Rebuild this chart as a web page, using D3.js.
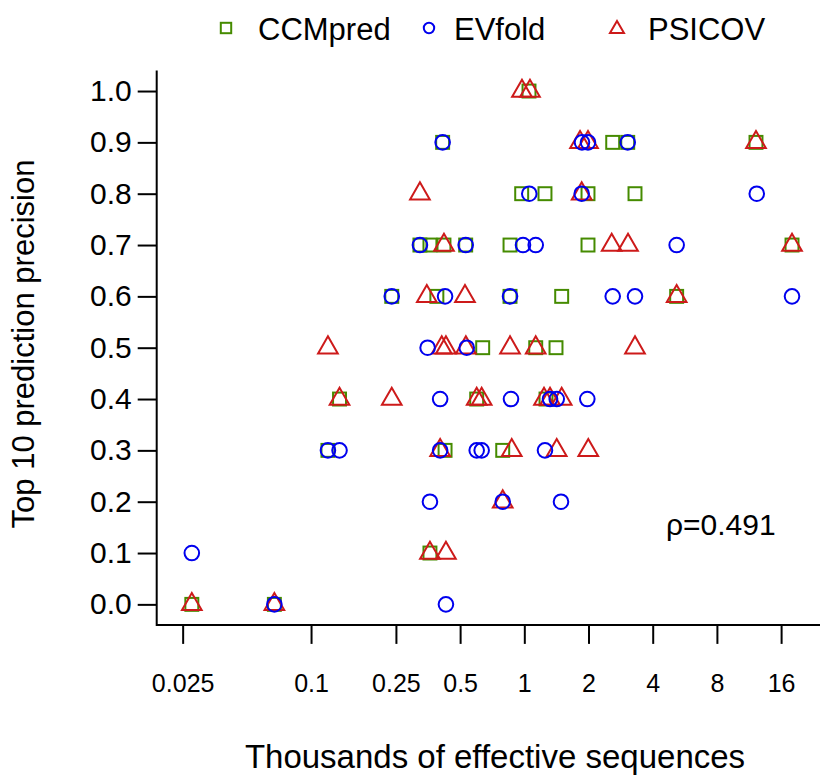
<!DOCTYPE html>
<html lang="en">
<head>
  <meta charset="utf-8">
  <title>Precision vs effective sequences</title>
  <script src="https://cdn.jsdelivr.net/npm/d3@7/dist/d3.min.js"></script>
  <style type="text/css">
    body { margin: 0; background: #fff; }
    text { font-family: "Liberation Sans", Arial, sans-serif; fill: #000; }
  </style>
</head>
<body>
<script type="text/javascript">

var width = 820;
var height = 776;

// data: [thousands of effective sequences, top 10 precision]
var ccmpred = [
  [1.052, 1.0],
  [0.414, 0.9], [2.597, 0.9], [3.054, 0.9], [12.2, 0.9],
  [0.972, 0.8], [1.250, 0.8], [1.989, 0.8], [3.304, 0.8],
  [0.324, 0.7], [0.361, 0.7], [0.420, 0.7], [0.531, 0.7], [0.857, 0.7], [1.989, 0.7], [18.0, 0.7],
  [0.239, 0.6], [0.389, 0.6], [0.857, 0.6], [1.497, 0.6], [5.18, 0.6],
  [0.638, 0.5], [1.131, 0.5], [1.408, 0.5],
  [0.136, 0.4], [0.598, 0.4], [1.264, 0.4],
  [0.120, 0.3], [0.425, 0.3], [0.792, 0.3],
  [0.361, 0.1],
  [0.0276, 0.0], [0.0673, 0.0]
];
var psicov = [
  [0.975, 1.0], [1.063, 1.0],
  [1.825, 0.9], [1.989, 0.9], [12.2, 0.9],
  [0.324, 0.8], [1.858, 0.8],
  [0.420, 0.7], [2.569, 0.7], [3.064, 0.7], [18.0, 0.7],
  [0.349, 0.6], [0.527, 0.6], [5.18, 0.6],
  [0.120, 0.5], [0.410, 0.5], [0.429, 0.5], [0.532, 0.5], [0.857, 0.5], [1.131, 0.5], [3.304, 0.5],
  [0.136, 0.4], [0.239, 0.4], [0.598, 0.4], [0.631, 0.4], [1.237, 0.4], [1.320, 0.4], [1.497, 0.4],
  [0.403, 0.3], [0.873, 0.3], [1.419, 0.3], [1.995, 0.3],
  [0.792, 0.2],
  [0.361, 0.1], [0.429, 0.1],
  [0.0276, 0.0], [0.0673, 0.0]
];
var evfold = [
  [0.414, 0.9], [1.864, 0.9], [1.989, 0.9], [3.054, 0.9],
  [1.055, 0.8], [1.858, 0.8], [12.3, 0.8],
  [0.324, 0.7], [0.531, 0.7], [0.986, 0.7], [1.131, 0.7], [5.18, 0.7],
  [0.239, 0.6], [0.425, 0.6], [0.857, 0.6], [2.597, 0.6], [3.304, 0.6], [18.0, 0.6],
  [0.352, 0.5], [0.537, 0.5],
  [0.403, 0.4], [0.866, 0.4], [1.320, 0.4], [1.419, 0.4], [1.974, 0.4],
  [0.120, 0.3], [0.136, 0.3], [0.403, 0.3], [0.598, 0.3], [0.631, 0.3], [1.250, 0.3],
  [0.361, 0.2], [0.792, 0.2], [1.486, 0.2],
  [0.0276, 0.1],
  [0.0673, 0.0], [0.429, 0.0]
];

var xTicks = [0.025, 0.1, 0.25, 0.5, 1, 2, 4, 8, 16];
var xTickLabels = ["0.025", "0.1", "0.25", "0.5", "1", "2", "4", "8", "16"];
var yTicks = [0, 0.1, 0.2, 0.3, 0.4, 0.5, 0.6, 0.7, 0.8, 0.9, 1.0];

var seriesNames = ["CCMpred", "EVfold", "PSICOV"];
var colors = {CCMpred: "#458b00", EVfold: "#0000ee", PSICOV: "#cd1a1a"};

var svg = d3.select("body")
        .append("svg")
        .attr("width", width)
        .attr("height", height);

var xScale = d3.scaleLog().domain([0.01889, 24.35]).range([156.7, 820]);
var yScale = d3.scaleLinear().domain([-0.04, 1.04]).range([624.9, 70.5]);

// L shaped box
svg.append("path")
    .attr("d", "M" + xScale.range()[0] + "," + yScale.range()[1] +
               "V" + yScale.range()[0] + "H" + xScale.range()[1])
    .attr("fill", "none")
    .attr("stroke", "#000")
    .attr("stroke-width", 2);

// axes
var yAxis = svg.append("g")
    .attr("transform", "translate(" + xScale.range()[0] + ",0)")
    .call(d3.axisLeft(yScale).tickValues(yTicks).tickSize(19).tickPadding(6)
          .tickFormat(d3.format(".1f")));
yAxis.select(".domain").remove();
yAxis.selectAll(".tick line").attr("stroke-width", 2);
yAxis.selectAll(".tick text").attr("font-size", 30).attr("font-family", null);

var xAxis = svg.append("g")
    .attr("transform", "translate(0," + yScale.range()[0] + ")")
    .call(d3.axisBottom(xScale).tickValues(xTicks).tickSize(19).tickPadding(30)
          .tickFormat(function(d, i){ return xTickLabels[i]; }));
xAxis.select(".domain").remove();
xAxis.selectAll(".tick line").attr("stroke-width", 2);
xAxis.selectAll(".tick text").attr("font-size", 25).attr("font-family", null);

// axis titles
svg.append("text")
    .attr("x", 495)
    .attr("y", 768)
    .attr("text-anchor", "middle")
    .attr("font-size", 33)
    .text("Thousands of effective sequences");

svg.append("text")
    .attr("transform", "translate(34,344) rotate(-90)")
    .attr("text-anchor", "middle")
    .attr("font-size", 31)
    .text("Top 10 prediction precision");

svg.append("text")
    .attr("x", 666)
    .attr("y", 535)
    .attr("font-size", 30)
    .text("\u03c1=0.491");

// marker shapes, R style
var rad = 7.3;
function trianglePath(cx, cy, s){
    var r = 1.555 * s, xc = 1.347 * s, yc = 0.778 * s;
    return "M" + cx + "," + (cy - r) + "L" + (cx + xc) + "," + (cy + yc) +
           "L" + (cx - xc) + "," + (cy + yc) + "Z";
}

var pts = svg.append("g").attr("fill", "none").attr("stroke-width", 2);

pts.selectAll(".sq")
    .data(ccmpred)
    .enter()
    .append("rect")
    .attr("class", "sq")
    .attr("x", function(d){ return xScale(d[0]) - rad * 0.886; })
    .attr("y", function(d){ return yScale(d[1]) - rad * 0.886; })
    .attr("width", rad * 1.772)
    .attr("height", rad * 1.772)
    .attr("stroke", colors.CCMpred);

pts.selectAll(".tri")
    .data(psicov)
    .enter()
    .append("path")
    .attr("class", "tri")
    .attr("d", function(d){ return trianglePath(xScale(d[0]), yScale(d[1]), rad); })
    .attr("stroke", colors.PSICOV)
    .attr("stroke-linejoin", "miter");

pts.selectAll(".circ")
    .data(evfold)
    .enter()
    .append("circle")
    .attr("class", "circ")
    .attr("cx", function(d){ return xScale(d[0]); })
    .attr("cy", function(d){ return yScale(d[1]); })
    .attr("r", rad)
    .attr("stroke", colors.EVfold);

// legend
var legendX = [226, 429, 617];
var legendTextX = [258, 454, 648];
var lg = svg.append("g");
var lr = 5.2;
lg.append("rect")
    .attr("x", legendX[0] - lr).attr("y", 28 - lr)
    .attr("width", lr * 2).attr("height", lr * 2)
    .attr("fill", "none").attr("stroke", colors.CCMpred).attr("stroke-width", 2);
lg.append("circle")
    .attr("cx", legendX[1]).attr("cy", 28).attr("r", 5.2)
    .attr("fill", "none").attr("stroke", colors.EVfold).attr("stroke-width", 2);
lg.append("path")
    .attr("d", trianglePath(legendX[2], 29, 5.2))
    .attr("fill", "none").attr("stroke", colors.PSICOV).attr("stroke-width", 2);
lg.selectAll(".lt")
    .data(seriesNames)
    .enter()
    .append("text")
    .attr("class", "lt")
    .attr("x", function(d, i){ return legendTextX[i]; })
    .attr("y", 40)
    .attr("font-size", 31)
    .text(function(d){ return d; });

</script>
</body>
</html>
